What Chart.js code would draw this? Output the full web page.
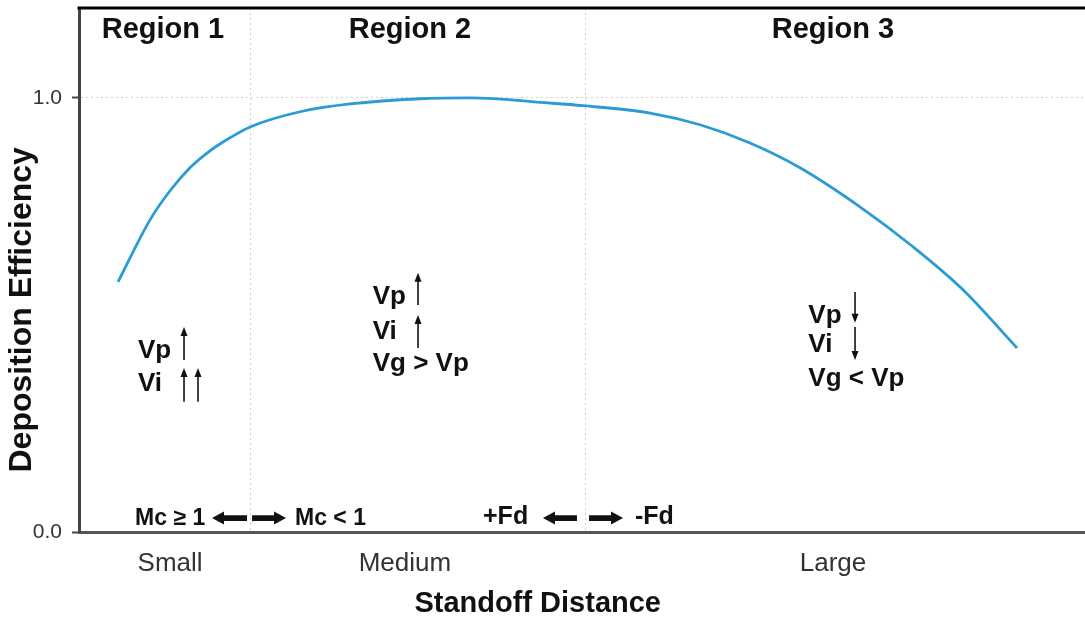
<!DOCTYPE html>
<html>
<head>
<meta charset="utf-8">
<title>Deposition Efficiency vs Standoff Distance</title>
<script src="https://cdn.jsdelivr.net/npm/chart.js@4.4.1/dist/chart.umd.min.js"></script>
<style>
  html, body { margin: 0; padding: 0; background: #fff; }
  .wrap { width: 1085px; height: 622px; }
</style>
</head>
<body>
<div class="wrap"><canvas id="deChart"></canvas></div>
<script>
// ===== Data =====
const distance   = [3.88, 7.06, 9.05, 11.03, 13.02, 15.01, 17.0, 21.97, 26.94, 33.9, 38.87, 46.82, 50.1, 56.76, 61.73, 66.7, 71.67, 77.63, 82.9, 87.87, 93.24];
const efficiency = [0.576, 0.719, 0.786, 0.839, 0.878, 0.908, 0.933, 0.968, 0.986, 0.998, 1.0, 0.988, 0.982, 0.965, 0.938, 0.896, 0.839, 0.749, 0.657, 0.558, 0.424];

const yTicks       = [0, 1];
const sizeLabels   = ['Small', 'Medium', 'Large'];
const sizePos      = [9.05, 32.4, 74.95];
const regionBounds = [17, 50.3];
const regionNames  = ['Region 1', 'Region 2', 'Region 3'];
const regionPos    = [8.35, 32.9, 74.95];

// text notes inside the plot (x / y in data units)
const notes = [
  { text: 'Vp', x: 5.86, y: 0.401 },
  { text: 'Vi', x: 5.86, y: 0.325 },
  { text: 'Vp', x: 29.2, y: 0.525 },
  { text: 'Vi', x: 29.2, y: 0.445 },
  { text: 'Vg > Vp', x: 29.2, y: 0.370 },
  { text: 'Vp', x: 72.5, y: 0.482 },
  { text: 'Vi', x: 72.5, y: 0.415 },
  { text: 'Vg < Vp', x: 72.5, y: 0.336 }
];
const mcNotes = [
  { text: 'Mc \u2265 1', x: 5.57, y: 0.016 },
  { text: 'Mc < 1', x: 21.47, y: 0.016 }
];
const fdNotes = [
  { text: '+Fd', x: 40.16, y: 0.018 },
  { text: '-Fd', x: 55.27, y: 0.018 }
];
// thin vertical arrows: from (x, y0) to tip (x, y1)
const thinArrows = [
  { x: 10.44, y0: 0.396, y1: 0.472 },
  { x: 10.44, y0: 0.300, y1: 0.378 },
  { x: 11.83, y0: 0.300, y1: 0.378 },
  { x: 33.7,  y0: 0.523, y1: 0.597 },
  { x: 33.7,  y0: 0.424, y1: 0.500 },
  { x: 77.14, y0: 0.553, y1: 0.482 },
  { x: 77.14, y0: 0.472, y1: 0.396 }
];
// thick horizontal arrows: tail x0 -> tip x1
const fatArrows = [
  { x0: 16.70, x1: 13.22, y: 0.032 },
  { x0: 17.20, x1: 20.58, y: 0.032 },
  { x0: 49.50, x1: 46.12, y: 0.032 },
  { x0: 50.70, x1: 54.08, y: 0.032 }
];

const FONT = "'Liberation Sans', Arial, Helvetica, sans-serif";
Chart.defaults.font.family = FONT;

const xTicks = [...sizePos, ...regionBounds].sort((a, b) => a - b);
const labelFor = v => {
  const i = sizePos.indexOf(v);
  return i >= 0 ? sizeLabels[i] : '';
};

// ===== Annotation plugin =====
const annotate = {
  id: 'annotate',
  afterDatasetsDraw(chart) {
    const { ctx, chartArea: a, scales: { x, y } } = chart;
    ctx.save();

    // top frame line
    ctx.strokeStyle = '#000';
    ctx.lineWidth = 3;
    ctx.beginPath();
    ctx.moveTo(a.left - 1.5, a.top);
    ctx.lineTo(a.right, a.top);
    ctx.stroke();

    ctx.fillStyle = '#111';
    ctx.textBaseline = 'alphabetic';

    // region headers
    ctx.font = 'bold 29px ' + FONT;
    ctx.textAlign = 'center';
    regionNames.forEach((t, i) => ctx.fillText(t, x.getPixelForValue(regionPos[i]), y.getPixelForValue(1.138)));

    // notes
    ctx.textAlign = 'left';
    ctx.font = 'bold 26px ' + FONT;
    notes.forEach(n => ctx.fillText(n.text, x.getPixelForValue(n.x), y.getPixelForValue(n.y)));
    ctx.font = 'bold 23px ' + FONT;
    mcNotes.forEach(n => ctx.fillText(n.text, x.getPixelForValue(n.x), y.getPixelForValue(n.y)));
    ctx.font = 'bold 25px ' + FONT;
    fdNotes.forEach(n => ctx.fillText(n.text, x.getPixelForValue(n.x), y.getPixelForValue(n.y)));

    // thin arrows
    ctx.strokeStyle = '#111';
    ctx.lineWidth = 1.6;
    thinArrows.forEach(ar => {
      const px = x.getPixelForValue(ar.x);
      const p0 = y.getPixelForValue(ar.y0);
      const p1 = y.getPixelForValue(ar.y1);
      const dir = p1 < p0 ? 1 : -1;
      ctx.beginPath();
      ctx.moveTo(px, p0);
      ctx.lineTo(px, p1 + dir * 6);
      ctx.stroke();
      ctx.beginPath();
      ctx.moveTo(px, p1);
      ctx.lineTo(px - 3.5, p1 + dir * 9);
      ctx.lineTo(px + 3.5, p1 + dir * 9);
      ctx.closePath();
      ctx.fill();
    });

    // fat arrows
    fatArrows.forEach(ar => {
      const p0 = x.getPixelForValue(ar.x0);
      const p1 = x.getPixelForValue(ar.x1);
      const py = y.getPixelForValue(ar.y);
      const dir = p1 > p0 ? 1 : -1;
      const neck = p1 - dir * 12;
      ctx.beginPath();
      ctx.moveTo(p0, py - 2.8);
      ctx.lineTo(neck, py - 2.8);
      ctx.lineTo(neck, py - 6.5);
      ctx.lineTo(p1, py);
      ctx.lineTo(neck, py + 6.5);
      ctx.lineTo(neck, py + 2.8);
      ctx.lineTo(p0, py + 2.8);
      ctx.closePath();
      ctx.fill();
    });

    // axis titles
    ctx.font = 'bold 29px ' + FONT;
    ctx.textAlign = 'center';
    ctx.textBaseline = 'middle';
    ctx.fillText('Standoff Distance', a.left + (a.right - a.left) * 0.456, a.bottom + 72);
    ctx.font = 'bold 32px ' + FONT;
    ctx.translate(22, a.top + (a.bottom - a.top) * 0.576);
    ctx.rotate(-Math.PI / 2);
    ctx.fillText('Deposition Efficiency', 0, 0);

    ctx.restore();
  }
};

// ===== Chart =====
new Chart(document.getElementById('deChart'), {
  type: 'line',
  data: {
    datasets: [{
      label: 'Deposition Efficiency',
      data: distance.map((d, i) => ({ x: d, y: efficiency[i] })),
      borderColor: '#2a9bd4',
      borderWidth: 2.8,
      pointRadius: 0,
      cubicInterpolationMode: 'monotone',
      fill: false
    }]
  },
  options: {
    responsive: true,
    maintainAspectRatio: false,
    animation: false,
    layout: { padding: { top: 8, right: 0, bottom: 0, left: 0 } },
    plugins: {
      legend: { display: false },
      tooltip: { enabled: false }
    },
    scales: {
      x: {
        type: 'linear',
        min: 0,
        max: 100,
        afterBuildTicks: s => { s.ticks = xTicks.map(v => ({ value: v })); },
        afterFit: s => { s.height = 90; s.paddingLeft = 0; s.paddingRight = 0; },
        grid: {
          color: c => (c.tick && regionBounds.includes(c.tick.value)) ? '#cfcfcf' : 'transparent',
          lineWidth: 1,
          drawTicks: false
        },
        border: { color: '#555', width: 3, dash: [2, 3] },
        ticks: {
          callback: v => labelFor(v),
          autoSkip: false,
          maxRotation: 0,
          color: '#333',
          padding: 16,
          font: { size: 26 }
        }
      },
      y: {
        min: 0,
        max: 1.207,
        afterBuildTicks: s => { s.ticks = yTicks.map(v => ({ value: v })); },
        afterFit: s => { s.width = 79; s.paddingTop = 0; s.paddingBottom = 0; },
        grid: {
          color: c => (c.tick && c.tick.value > 0) ? '#cfcfcf' : 'transparent',
          lineWidth: 1,
          tickColor: '#444',
          tickLength: 7,
          tickWidth: 2
        },
        border: { color: '#444', width: 3, dash: [2, 3] },
        ticks: {
          callback: v => v.toFixed(1),
          color: '#333',
          padding: 10,
          font: { size: 21 }
        }
      }
    }
  },
  plugins: [annotate]
});
</script>
</body>
</html>
